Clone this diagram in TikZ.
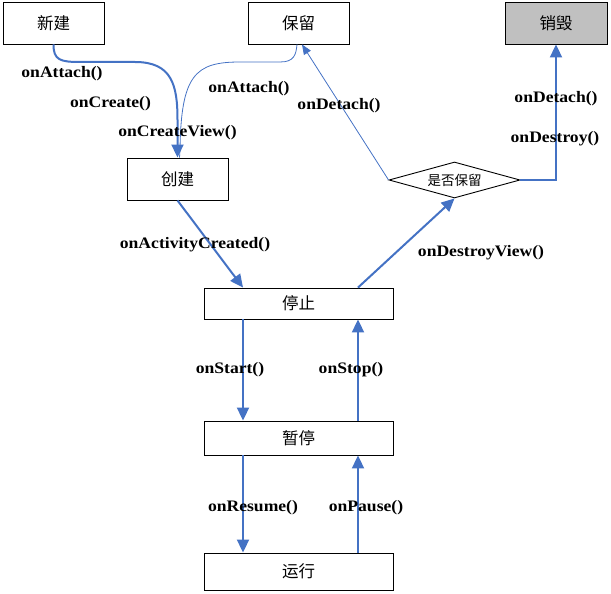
\documentclass[tikz,border=0pt]{standalone}
\usepackage{fontspec}
\setmainfont{Liberation Serif}
\newfontfamily\cjk{Noto Sans CJK SC}
\newfontfamily\lab{Liberation Serif}[FakeStretch=1.1]
\usetikzlibrary{shapes.geometric,arrows.meta,calc}
\definecolor{lblue}{HTML}{4472C4}
\definecolor{dgray}{HTML}{C0C0C0}
\tikzset{
  box/.style={draw=black, line width=0.9pt, inner sep=0pt, font=\cjk\fontsize{16.5}{16.5}\selectfont},
  lbl/.style={font=\lab\bfseries\fontsize{16}{16}\selectfont, inner sep=0pt},
  thick arrow/.style={draw=lblue, line width=2pt, -{Triangle[length=13pt,width=12pt]}},
  thin arrow/.style={draw=lblue, line width=0.8pt, -{Triangle[length=10pt,width=8pt]}},
  thin line/.style={draw=lblue, line width=0.8pt},
}
\begin{document}
\begin{tikzpicture}[x=1pt,y=-1pt]
\useasboundingbox (0,0) rectangle (611,594);
\node[box, minimum width=101pt, minimum height=42pt] (xj) at (53.5,23) {新建};
\node[box, minimum width=101pt, minimum height=42pt] (bl) at (298.5,23) {保留};
\node[box, fill=dgray, minimum width=102pt, minimum height=42pt] (xh) at (556,23) {销毁};
\node[box, minimum width=101pt, minimum height=42pt] (cj) at (177.5,179) {创建};
\node[box, minimum width=189pt, minimum height=31pt] (tz) at (298.5,303.5) {停止};
\node[box, minimum width=189pt, minimum height=34pt] (zt) at (298.5,438) {暂停};
\node[box, minimum width=189pt, minimum height=37pt] (yx) at (298.5,571.5) {运行};
\node[diamond, draw=black, line width=0.9pt, inner sep=0pt, shape aspect=3.64,
  minimum width=131pt, minimum height=36pt,
  font=\cjk\fontsize{13.5}{13.5}\selectfont] (dm) at (454.5,180) {是否保留};

% new -> create
\draw[thick arrow] (xj.south) .. controls (53.5,60) and (60,62) .. (80,62) -- (135,62)
  .. controls (172,62) and (177.5,85) .. (177.5,120) -- (cj.north);
% retained -> create (thin)
\draw[thin line] ($(cj.north)+(2,0)$) -- (180,150) .. controls (181,75) and (195,62) .. (240,62)
  -- (280,62) .. controls (294,62) and (296,55) .. ($(bl.south)+(-1.5,0)$);
% create -> stop
\draw[thick arrow] (cj.south) -- ($(tz.north)+(-55.5,0)$);
% stop -> diamond
\draw[thick arrow] ($(tz.north)+(59.5,0)$) -- (dm.south);
% diamond -> retained
\draw[thin arrow] (dm.west) -- ($(bl.south)+(3.5,0)$);
% diamond -> destroy
\draw[thick arrow] (dm.east) -- (xh.south |- dm.east) -- (xh.south);
% stop <-> pause
\draw[thick arrow] ($(tz.south)+(-55.5,0)$) -- ($(zt.north)+(-55.5,0)$);
\draw[thick arrow] ($(zt.north)+(59.5,0)$) -- ($(tz.south)+(59.5,0)$);
% pause <-> run
\draw[thick arrow] ($(zt.south)+(-55.5,0)$) -- ($(yx.north)+(-55.5,0)$);
\draw[thick arrow] ($(yx.north)+(59.5,0)$) -- ($(zt.south)+(59.5,0)$);

% labels
\node[lbl] (l1) at (62,74) {onAttach()};
\node[lbl] (l2) at (110.5,104) {onCreate()};
\node[lbl] (l3) at (177.5,133) {onCreateView()};
\node[lbl] (l4) at (249,89) {onAttach()};
\node[lbl] (l5) at (339,106) {onDetach()};
\node[lbl] (l6) at (556,99) {onDetach()};
\node[lbl] (l7) at (555,139) {onDestroy()};
\node[lbl] (l8) at (481,253) {onDestroyView()};
\node[lbl] (l9) at (195,245) {onActivityCreated()};
\node[lbl] (l10) at (230,370) {onStart()};
\node[lbl] (l11) at (351,370) {onStop()};
\node[lbl] (l12) at (253,508) {onResume()};
\node[lbl] (l13) at (366,508) {onPause()};
\end{tikzpicture}
\end{document}
